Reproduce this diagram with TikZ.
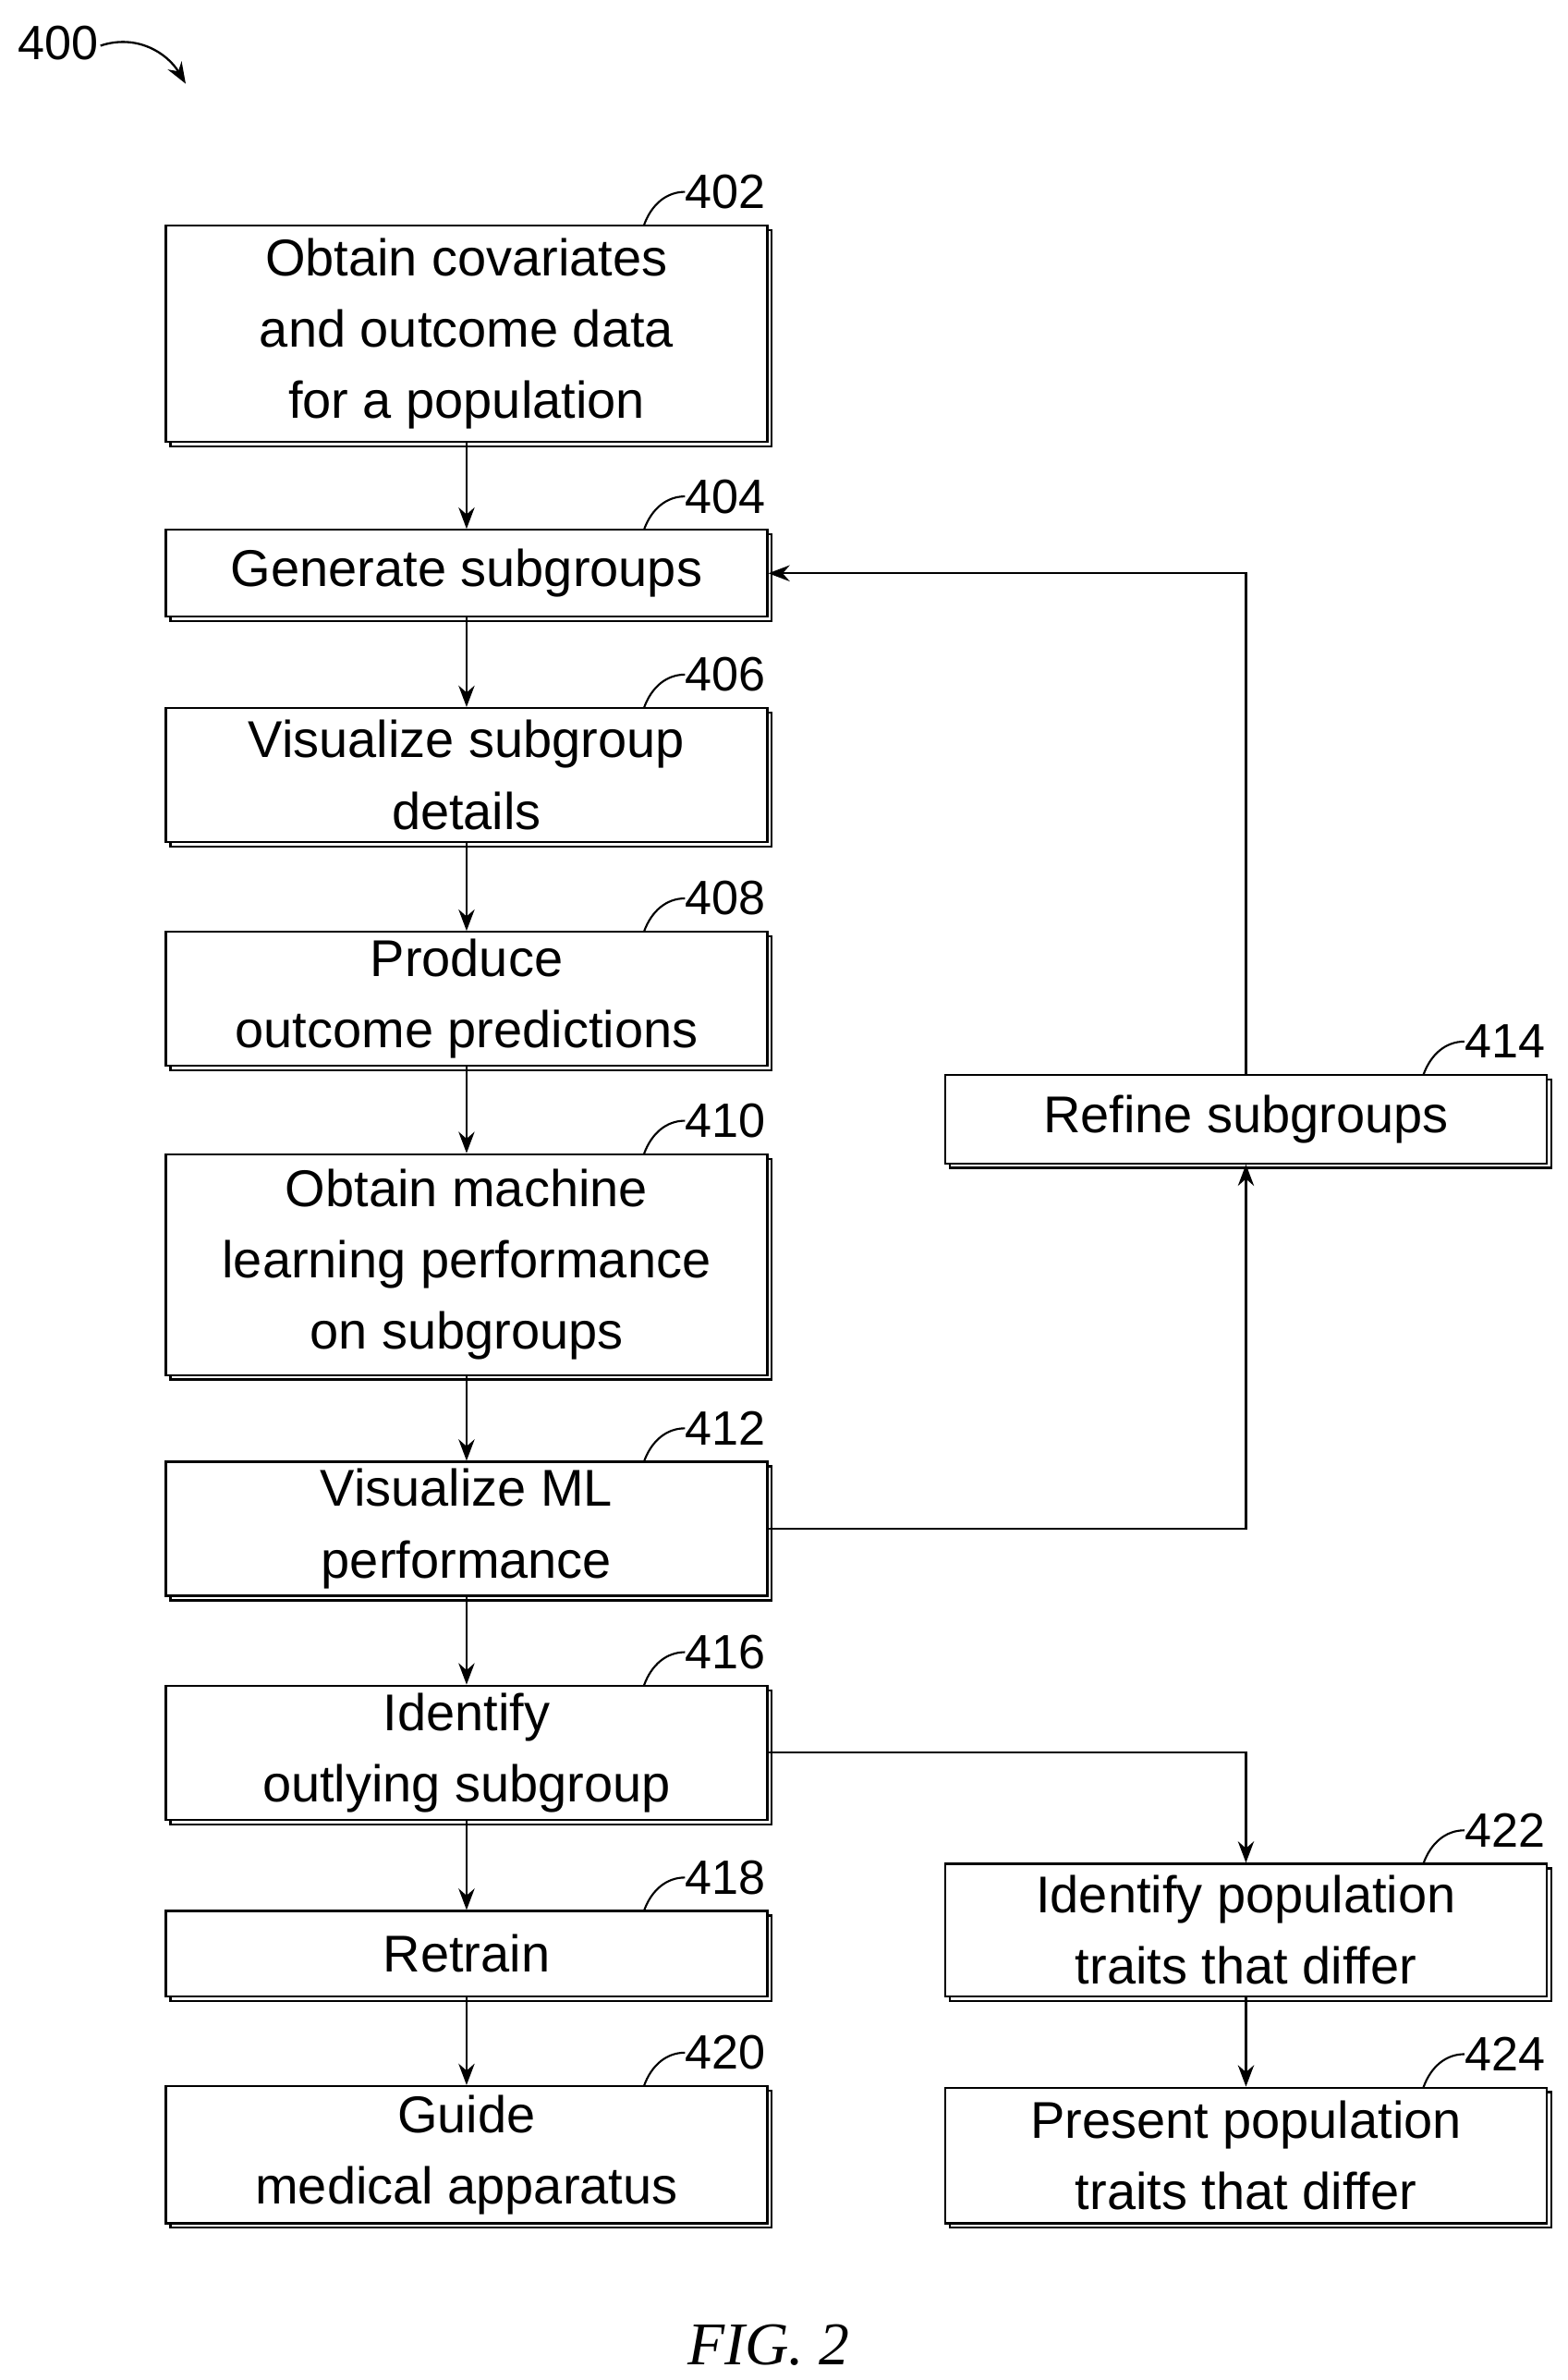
\documentclass[tikz,border=0pt]{standalone}
\usepackage{fontspec}
\setmainfont{Liberation Sans}
\usetikzlibrary{shadows,arrows.meta}
\begin{document}
\begin{tikzpicture}[x=0.03cm,y=-0.03cm,
 bx/.style={draw,line width=1.2pt,fill=white,align=center,inner sep=0pt,
   minimum width=11.85cm,font=\fontsize{29}{40}\selectfont,
   copy shadow={shadow xshift=0.09cm,shadow yshift=-0.09cm,draw,fill=white,line width=1.2pt}},
 ar/.style={line width=1.2pt,-{Stealth[length=12pt,width=9pt]}},
 lb/.style={font=\fontsize{27}{30}\selectfont},
 ld/.style={line width=1.1pt}]
\useasboundingbox (0,0) rectangle (1030,1563);
\newcommand\bx[6]{\node[bx,minimum height={(#5-#3)*0.03cm}] (#1) at ({(#2+#4)/2},{(#3+#5)/2}) {#6};}
\newcommand\lab[3]{\draw[ld] (#1,#2) .. controls (#1+5,#2-14) and (#1+15,#2-22) .. (#1+27,#2-22);
  \node[lb,anchor=west,inner sep=0pt] (l#3) at (#1+27,#2-22) {#3};}
\bx{b402}{110}{148}{503}{290}{Obtain covariates\\and outcome data\\for a population}
\bx{b404}{110}{348}{503}{405}{Generate subgroups}
\bx{b406}{110}{465}{503}{553}{Visualize subgroup\\details}
\bx{b408}{110}{612}{503}{700}{Produce\\outcome predictions}
\bx{b410}{110}{758}{503}{903}{Obtain machine\\learning performance\\on subgroups}
\bx{b412}{110}{960}{503}{1048}{Visualize ML\\performance}
\bx{b416}{110}{1107}{503}{1195}{Identify\\outlying subgroup}
\bx{b418}{110}{1255}{503}{1311}{Retrain}
\bx{b420}{110}{1370}{503}{1460}{Guide\\medical apparatus}
\bx{b414}{622}{706}{1015}{764}{Refine subgroups}
\bx{b422}{622}{1224}{1015}{1311}{Identify population\\traits that differ}
\bx{b424}{622}{1371}{1015}{1460}{Present population\\traits that differ}
\lab{423}{148}{402}
\lab{423}{348}{404}
\lab{423}{465}{406}
\lab{423}{612}{408}
\lab{423}{758}{410}
\lab{423}{960}{412}
\lab{423}{1107}{416}
\lab{423}{1255}{418}
\lab{423}{1370}{420}
\lab{935}{706}{414}
\lab{935}{1224}{422}
\lab{935}{1371}{424}
\draw[ar] (b402) -- (b404);
\draw[ar] (b404) -- (b406);
\draw[ar] (b406) -- (b408);
\draw[ar] (b408) -- (b410);
\draw[ar] (b410) -- (b412);
\draw[ar] (b412) -- (b416);
\draw[ar] (b416) -- (b418);
\draw[ar] (b418) -- (b420);
\draw[ar] (b422) -- (b424);
\draw[ar] (b412.east) -| (b414.south);
\draw[ar] (b414.north) |- (b404.east);
\draw[ar] (b416.east) ++(0,0) -| (b422.north);
\node[lb,anchor=center] (l400) at (38,28) {400};
\coordinate (t400) at (122,55);
\draw[ar] (66,30) .. controls (90,22) and (110,35) .. (t400);
\node[font=\fontsize{34}{40}\selectfont\rmfamily\itshape] (fig) at (505,1540) {\fontspec{Liberation Serif}\itshape FIG. 2};
\end{tikzpicture}
\end{document}
